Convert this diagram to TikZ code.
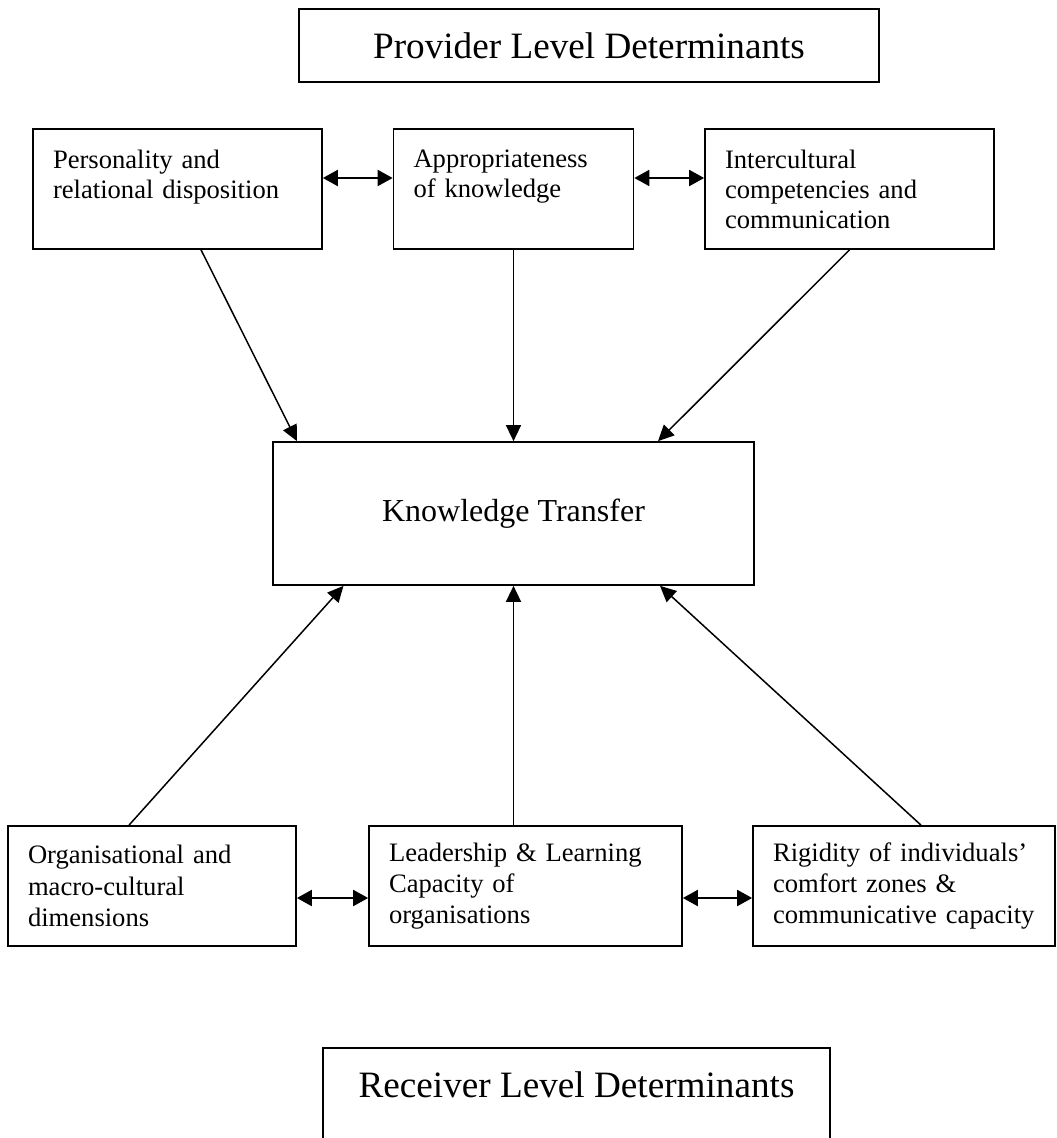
\documentclass[tikz,border=0pt]{standalone}
\usepackage{fontspec}
\setmainfont{Liberation Serif}
\usetikzlibrary{arrows.meta}

\begin{document}
\begin{tikzpicture}[x=0.5pt, y=-0.5pt,
    factor/.style={draw, line width=0.85pt, align=left, inner xsep=10pt, inner ysep=0pt, minimum height=60pt, font=\fontsize{13.3}{15}\selectfont},
    lowfactor/.style={factor, font=\fontsize{13.3}{15.6}\selectfont},
    heading/.style={draw, line width=0.85pt, align=center, inner sep=0pt, font=\fontsize{18.6}{22}\selectfont},
    core/.style={draw, line width=0.85pt, inner sep=0pt, font=\fontsize{16}{19}\selectfont},
    link/.style={-{Triangle[length=8pt, width=7.5pt]}, line width=0.75pt},
    mutual/.style={{Triangle[length=7.5pt, width=8pt]}-{Triangle[length=7.5pt, width=8pt]}, line width=1pt}]
    \clip (0,0) rectangle (1056,1138);

    \node[heading, minimum width=290pt, minimum height=36.5pt] (prov) at (589,45.5) {Provider Level Determinants};

    \node[factor, text width=124.5pt] (pers) at (177.5,189) {Personality and\\relational disposition\\~};
    \node[factor, text width=100pt] (appr) at (513.5,189) {Appropriateness\\of knowledge\\~};
    \node[factor, text width=124.5pt] (inter) at (849.5,189) {Intercultural\\competencies and\\communication};

    \node[core, minimum width=240.5pt, minimum height=71.5pt] (kt) at (513.5,513.5) {Knowledge Transfer};

    \node[lowfactor, text width=124pt] (org) at (152,886) {Organisational and\\macro-cultural\\dimensions};
    \node[lowfactor, text width=136.5pt] (lead) at (525.5,886) {Leadership \& Learning\\Capacity of\\organisations};
    \node[lowfactor, text width=131pt] (rig) at (904,886) {Rigidity of individuals’\\comfort zones \&\\communicative capacity};

    \node[heading, minimum width=253.5pt, minimum height=58.5pt, anchor=north] (recv) at (576.5,1047) {Receiver Level Determinants\\~};

    \draw[mutual] ([yshift=5.5pt]pers.east) -- ([yshift=5.5pt]appr.west);
    \draw[mutual] ([yshift=5.5pt]appr.east) -- ([yshift=5.5pt]inter.west);
    \draw[mutual] ([yshift=-6pt]org.east) -- ([yshift=-6pt]lead.west);
    \draw[mutual] ([yshift=-6pt]lead.east) -- ([yshift=-6pt]rig.west);

    \draw[link] ([xshift=11.75pt]pers.south) -- ([xshift=-108.25pt]kt.north);
    \draw[link] (appr.south) -- (kt.north);
    \draw[link] (inter.south) -- ([xshift=72.25pt]kt.north);
    \draw[link] ([xshift=-11.5pt]org.north) -- ([xshift=-85pt]kt.south);
    \draw[link] (lead.north -| kt.south) -- (kt.south);
    \draw[link] ([xshift=8.5pt]rig.north) -- ([xshift=73.25pt]kt.south);
\end{tikzpicture}
\end{document}
